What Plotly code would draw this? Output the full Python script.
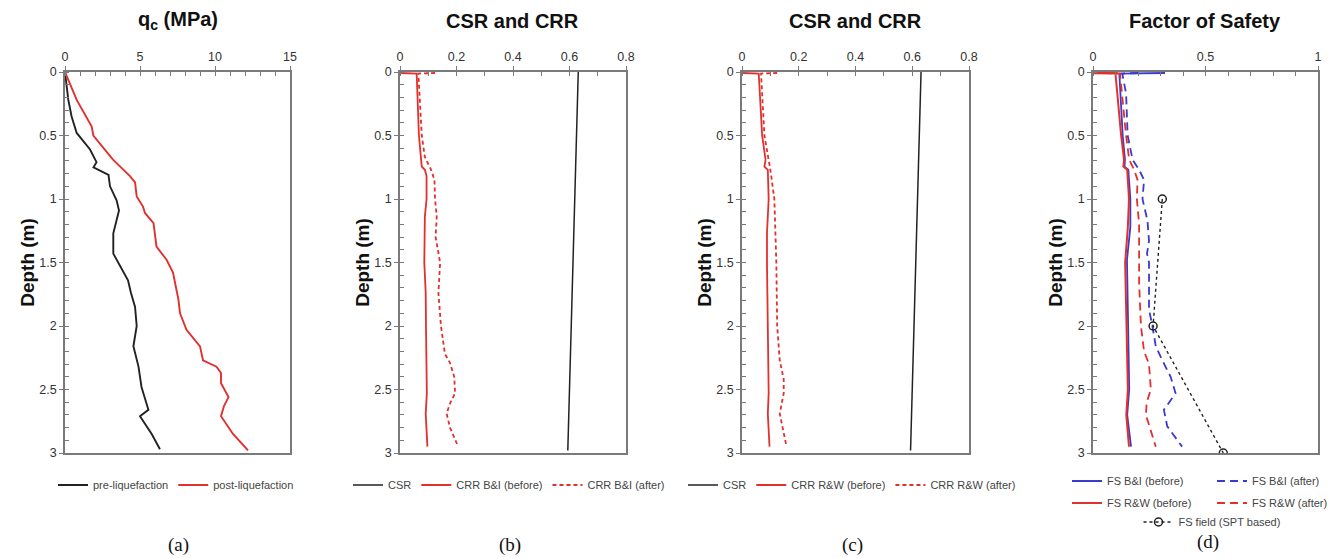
import plotly.graph_objects as go

# ---------------- data ----------------
# (a) cone tip resistance qc (MPa) vs depth (m)
depth_pre = [0, 0.1, 0.22, 0.35, 0.48, 0.61, 0.71, 0.75, 0.785, 0.81, 0.90, 1.01, 1.09, 1.27, 1.43,
             1.53, 1.64, 1.74, 1.85, 2.0, 2.16, 2.32, 2.48, 2.66, 2.71, 2.85, 2.97]
qc_pre = [0, 0.1, 0.22, 0.44, 0.78, 1.67, 2.1, 1.9, 2.55, 2.9, 3.0, 3.44, 3.6, 3.22, 3.22,
          3.67, 4.2, 4.4, 4.67, 4.78, 4.56, 4.9, 5.1, 5.56, 5.0, 5.78, 6.33]
depth_post = [0, 0.22, 0.43, 0.50, 0.69, 0.82, 0.87, 0.98, 1.06, 1.11, 1.19, 1.375, 1.48, 1.58, 1.72,
              1.79, 1.90, 2.03, 2.16, 2.27, 2.32, 2.37, 2.45, 2.56, 2.63, 2.71, 2.85, 2.98]
qc_post = [0, 0.78, 1.78, 1.89, 3.2, 4.33, 4.67, 4.78, 5.2, 5.33, 5.9, 6.1, 6.78, 7.2, 7.44,
           7.56, 7.67, 8.1, 9.0, 9.2, 10.1, 10.4, 10.4, 10.9, 10.6, 10.4, 11.2, 12.2]

# CSR (same in b and c)
depth_csr = [0, 2.98]
csr = [0.631, 0.594]

# (b) CRR B&I
depth_bi_before = [0.008, 0.012, 0.5, 0.69, 0.745, 0.77, 0.82, 1.0, 1.14, 1.5, 1.74, 2.0, 2.53, 2.69, 2.95]
crr_bi_before = [0, 0.059, 0.067, 0.074, 0.077, 0.088, 0.094, 0.094, 0.088, 0.086, 0.091, 0.092, 0.095, 0.091, 0.097]
depth_bi_after = [0.008, 0.012, 0.5, 0.67, 0.77, 0.85, 1.0, 1.14, 1.3, 1.5, 1.74, 2.0, 2.22, 2.29, 2.4,
                  2.53, 2.61, 2.69, 2.8, 2.95]
crr_bi_after = [0.124, 0.065, 0.077, 0.088, 0.11, 0.122, 0.124, 0.13, 0.126, 0.142, 0.136, 0.145, 0.159,
                0.177, 0.192, 0.195, 0.177, 0.165, 0.177, 0.206]

# (c) CRR R&W
depth_rw_before = [0.008, 0.012, 0.5, 0.69, 0.745, 0.77, 1.0, 1.27, 1.5, 2.0, 2.53, 2.69, 2.95]
crr_rw_before = [0, 0.059, 0.071, 0.083, 0.079, 0.091, 0.094, 0.088, 0.088, 0.092, 0.094, 0.091, 0.097]
depth_rw_after = [0.008, 0.012, 0.5, 0.77, 1.0, 1.27, 1.5, 2.0, 2.27, 2.42, 2.53, 2.69, 2.95]
crr_rw_after = [0.124, 0.067, 0.079, 0.10, 0.114, 0.118, 0.121, 0.124, 0.133, 0.147, 0.147, 0.133, 0.157]

# (d) Factor of safety
depth_fs_bi_before = [0.008, 0.012, 0.5, 0.69, 0.745, 0.77, 1.0, 1.22, 1.48, 2.0, 2.5, 2.7, 2.95]
fs_bi_before = [0.32, 0.117, 0.132, 0.142, 0.14, 0.157, 0.166, 0.166, 0.151, 0.157, 0.161, 0.152, 0.169]
depth_fs_rw_before = [0.004, 0.006, 0.009, 0.012, 0.015, 0.5, 0.69, 0.745, 0.77, 1.0, 1.22, 1.5, 2.0, 2.5, 2.7, 2.95]
fs_rw_before = [0, 0.11, 0, 0.11, 0.10, 0.125, 0.138, 0.135, 0.152, 0.16, 0.155, 0.143, 0.148, 0.155, 0.148, 0.16]
depth_fs_bi_after = [0.008, 0.012, 0.17, 0.5, 0.69, 0.77, 0.85, 1.0, 1.17, 1.33, 1.43, 1.5, 1.66, 1.87,
                     2.0, 2.16, 2.27, 2.4, 2.53, 2.66, 2.79, 2.95]
fs_bi_after = [0.2, 0.13, 0.147, 0.154, 0.176, 0.205, 0.227, 0.22, 0.242, 0.249, 0.24, 0.249, 0.249, 0.249,
               0.264, 0.279, 0.308, 0.345, 0.367, 0.315, 0.33, 0.396]
depth_fs_rw_after = [0.008, 0.012, 0.5, 0.69, 0.77, 0.85, 1.0, 1.2, 1.5, 1.66, 2.0, 2.2, 2.3, 2.5, 2.6, 2.7, 2.95]
fs_rw_after = [0.05, 0.12, 0.147, 0.161, 0.183, 0.198, 0.195, 0.205, 0.205, 0.205, 0.213, 0.227, 0.249,
               0.257, 0.239, 0.235, 0.279]
depth_fs_field = [1, 2, 3]
fs_field = [0.308, 0.267, 0.579]

titles = ["<b>q<sub>c</sub> (MPa)</b>", "<b>CSR and CRR</b>", "<b>CSR and CRR</b>", "<b>Factor of Safety</b>"]
captions = ["(a)", "(b)", "(c)", "(d)"]

# ---------------- styling ----------------
W, H = 1340, 558
RED = "#e2302e"
BLUE = "#3a3acb"
BLACK = "#222222"
FONT = "Liberation Sans, Arial, sans-serif"

def px_x(p):
    return p / W

def px_y(p):
    return 1 - p / H

x_domains_px = [(65, 290), (400, 626), (742, 969), (1093, 1318)]
y_dom = [px_y(453), px_y(72)]

fig = go.Figure()

def add(x, y, name, color, dash, ax, legend, width=1.8, mode="lines", marker=None):
    fig.add_trace(go.Scatter(
        x=x, y=y, name=name, mode=mode,
        line=dict(color=color, width=width, dash=dash),
        marker=marker,
        xaxis="x" + ("" if ax == 1 else str(ax)),
        yaxis="y" + ("" if ax == 1 else str(ax)),
        legend=legend,
    ))

short_dash = "4px,3px"
long_dash = "8px,5px"

# (a)
add(qc_pre, depth_pre, "pre-liquefaction", BLACK, "solid", 1, "legend", width=1.9)
add(qc_post, depth_post, "post-liquefaction", RED, "solid", 1, "legend", width=1.9)
# (b)
add(csr, depth_csr, "CSR", BLACK, "solid", 2, "legend2", width=1.5)
add(crr_bi_before, depth_bi_before, "CRR B&I (before)", RED, "solid", 2, "legend2")
add(crr_bi_after, depth_bi_after, "CRR B&I (after)", RED, short_dash, 2, "legend2")
# (c)
add(csr, depth_csr, "CSR", BLACK, "solid", 3, "legend3", width=1.5)
add(crr_rw_before, depth_rw_before, "CRR R&W (before)", RED, "solid", 3, "legend3")
add(crr_rw_after, depth_rw_after, "CRR R&W (after)", RED, short_dash, 3, "legend3")
# (d)
add(fs_bi_before, depth_fs_bi_before, "FS B&I (before)", BLUE, "solid", 4, "legend4")
add(fs_bi_after, depth_fs_bi_after, "FS B&I (after)", BLUE, long_dash, 4, "legend4")
add(fs_rw_before, depth_fs_rw_before, "FS R&W (before)", RED, "solid", 4, "legend5", width=2.0)
add(fs_rw_after, depth_fs_rw_after, "FS R&W (after)", RED, long_dash, 4, "legend5")
add(fs_field, depth_fs_field, "FS field (SPT based)", BLACK, "dot", 4, "legend6", width=1.4,
    mode="lines+markers",
    marker=dict(symbol="circle-open", size=8, color=BLACK, line=dict(width=1.5, color=BLACK)))

x_ranges = [[0, 15], [0, 0.8], [0, 0.8], [0, 1]]
x_dticks = [5, 0.2, 0.2, 0.5]
x_minor = [1, 0.1, 0.1, 0.1]

layout = dict(
    width=W, height=H,
    margin=dict(l=0, r=0, t=0, b=0, autoexpand=False),
    paper_bgcolor="white", plot_bgcolor="white",
    font=dict(family=FONT, color="#333333", size=12),
)

axis_common = dict(
    showgrid=False, zeroline=False, automargin=False,
    showline=True, linecolor="#7a7a7a", linewidth=1.5, mirror=True,
    ticks="outside", ticklen=4, tickcolor="#7a7a7a", tickwidth=1.2,
    tickfont=dict(size=12.5, color="#333333", family=FONT),
)

for i in range(4):
    sfx = "" if i == 0 else str(i + 1)
    d0, d1 = x_domains_px[i]
    layout["xaxis" + sfx] = dict(
        axis_common,
        domain=[px_x(d0), px_x(d1)],
        range=x_ranges[i], side="top", dtick=x_dticks[i], tick0=0,
        anchor="y" + sfx,
        minor=dict(dtick=x_minor[i], ticks="inside", ticklen=4, tickcolor="#7a7a7a", showgrid=False),
        fixedrange=True,
    )
    layout["yaxis" + sfx] = dict(
        axis_common,
        domain=y_dom,
        range=[3, 0], dtick=0.5, tick0=0,
        anchor="x" + sfx,
        minor=dict(dtick=0.1, ticks="inside", ticklen=4, tickcolor="#7a7a7a", showgrid=False),
        title=dict(text="<b>Depth (m)</b>", font=dict(size=19, color="#111111", family=FONT), standoff=0),
        fixedrange=True,
    )

leg_common = dict(
    orientation="h", xanchor="center", yanchor="middle",
    font=dict(size=11, color="#444444", family=FONT),
    bgcolor="rgba(0,0,0,0)", itemwidth=30, tracegroupgap=0,
)
layout["legend"] = dict(leg_common, x=px_x(176), y=px_y(485))
layout["legend2"] = dict(leg_common, x=px_x(509), y=px_y(485))
layout["legend3"] = dict(leg_common, x=px_x(852), y=px_y(485))
layout["legend4"] = dict(leg_common, x=px_x(1212), y=px_y(481), entrywidth=100, entrywidthmode="pixels")
layout["legend5"] = dict(leg_common, x=px_x(1212), y=px_y(503), entrywidth=100, entrywidthmode="pixels")
layout["legend6"] = dict(leg_common, x=px_x(1212), y=px_y(522))

fig.update_layout(**layout)

title_x = [178, 512, 855, 1205]
cap_x = [178, 510, 852, 1208]
cap_y = [545, 545, 545, 542]
for i in range(4):
    fig.add_annotation(text=titles[i], x=px_x(title_x[i]), y=px_y(21), xref="paper", yref="paper",
                       showarrow=False, font=dict(size=20, color="#111111", family=FONT),
                       xanchor="center", yanchor="middle")
    fig.add_annotation(text=captions[i], x=px_x(cap_x[i]), y=px_y(cap_y[i]), xref="paper", yref="paper",
                       showarrow=False, font=dict(size=19, color="#111111", family="Liberation Serif, Times New Roman, serif"),
                       xanchor="center", yanchor="middle")

fig.write_html("out.html")
